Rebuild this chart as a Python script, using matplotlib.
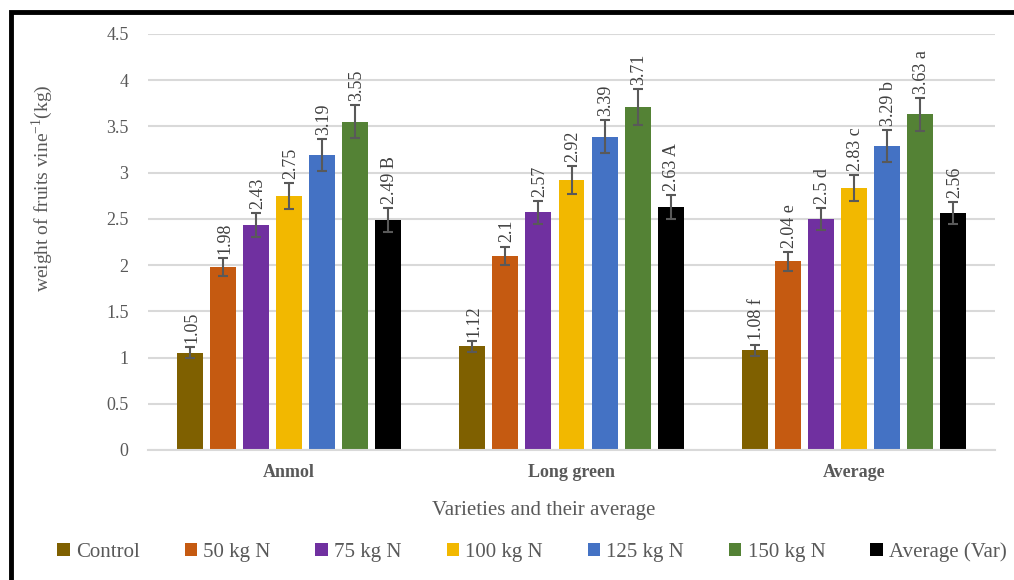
import numpy as np
import matplotlib
matplotlib.use('Agg')
import matplotlib.pyplot as plt
from matplotlib.patches import Rectangle, Patch

plt.rcParams['font.family'] = ['Liberation Serif', 'DejaVu Serif']
plt.rcParams['mathtext.fontset'] = 'custom'
plt.rcParams['mathtext.rm'] = 'Liberation Serif'

varieties = ['Anmol', 'Long green', 'Average']
treatments = ['Control', '50 kg N', '75 kg N', '100 kg N', '125 kg N', '150 kg N', 'Average (Var)']
colors = ['#7F6000', '#C55A11', '#7030A0', '#F2B800', '#4472C4', '#548235', '#000000']

# mean fruit weight per vine, one list per treatment (Anmol, Long green, Average)
control = [1.05, 1.12, 1.08]
n50 = [1.98, 2.10, 2.04]
n75 = [2.43, 2.57, 2.50]
n100 = [2.75, 2.92, 2.83]
n125 = [3.19, 3.39, 3.29]
n150 = [3.55, 3.71, 3.63]
avg_var = [2.49, 2.63, 2.56]

# error bar half-widths
err_control = [0.06, 0.06, 0.06]
err_n50 = [0.10, 0.10, 0.10]
err_n75 = [0.13, 0.12, 0.12]
err_n100 = [0.14, 0.15, 0.14]
err_n125 = [0.17, 0.18, 0.17]
err_n150 = [0.18, 0.19, 0.18]
err_avg_var = [0.13, 0.13, 0.12]

# significance letters shown after the values
let_control = ['', '', 'f']
let_n50 = ['', '', 'e']
let_n75 = ['', '', 'd']
let_n100 = ['', '', 'c']
let_n125 = ['', '', 'b']
let_n150 = ['', '', 'a']
let_avg_var = ['B', 'A', '']

series = [control, n50, n75, n100, n125, n150, avg_var]
errors = [err_control, err_n50, err_n75, err_n100, err_n125, err_n150, err_avg_var]
letters = [let_control, let_n50, let_n75, let_n100, let_n125, let_n150, let_avg_var]

grey = '#595959'

fig = plt.figure(figsize=(10.14, 5.8), dpi=100)
ax = fig.add_axes([148 / 1014, 1 - 450 / 580, (995 - 148) / 1014, (450 - 34) / 580])

x = np.arange(len(varieties))
pitch = 0.117
width = 0.092
for i, (vals, errs, lets) in enumerate(zip(series, errors, letters)):
    pos = x + (i - 3) * pitch
    ax.bar(pos, vals, width, color=colors[i], label=treatments[i], zorder=2)
    ax.errorbar(pos, vals, yerr=errs, fmt='none', ecolor=grey, elinewidth=1.5,
                capsize=3.5, capthick=1.5, zorder=3)
    for p, v, e, l in zip(pos, vals, errs, lets):
        txt = ('%g' % v) + (' ' + l if l else '')
        ax.annotate(txt, (p, v + e), xytext=(1, 3), textcoords='offset points',
                    rotation=90, ha='center', va='bottom', fontsize=13, color='#404040')

ax.set_xlim(-0.5, 2.5)
ax.set_ylim(0, 4.5)
ax.set_yticks(np.arange(0, 4.51, 0.5))
ax.set_yticklabels(['0', '0.5', '1', '1.5', '2', '2.5', '3', '3.5', '4', '4.5'])
ax.yaxis.grid(True, color='#D9D9D9', linewidth=1.5, zorder=0)
ax.set_axisbelow(True)
for s in ['top', 'right', 'left']:
    ax.spines[s].set_visible(False)
ax.spines['bottom'].set_color('#D9D9D9')
ax.spines['bottom'].set_linewidth(1.5)
ax.tick_params(axis='y', length=0, pad=14, labelsize=13, labelcolor=grey)
ax.tick_params(axis='x', length=0, pad=10)
ax.set_xticks(x)
ax.set_xticklabels(varieties, fontsize=13, fontweight='bold', color=grey)

fig.text(544 / 1014, 1 - 511 / 580, 'Varieties and their average', ha='center', va='center',
         fontsize=15, color=grey)
fig.text(42 / 1014, 1 - 188 / 580, r'weight of fruits vine$^{-1}$(kg)', ha='center', va='center',
         rotation=90, fontsize=14, color=grey)

handles = [Patch(facecolor=c, label=t) for c, t in zip(colors, treatments)]
fig.legend(handles=handles, loc='center', bbox_to_anchor=(532 / 1014, 1 - 552 / 580), ncol=7,
           frameon=False, prop={'family': 'Liberation Serif', 'size': 15}, labelcolor=grey,
           handlelength=0.6, handleheight=0.6, handletextpad=0.3, columnspacing=2.15)

# frame on the top and left edges
fig.add_artist(Rectangle((10.5 / 1014, -0.1), 1.2, 1.1 - 12 / 580, transform=fig.transFigure,
                         fill=False, edgecolor='black', linewidth=3.5, clip_on=False))

fig.savefig('out.png', dpi=100)
